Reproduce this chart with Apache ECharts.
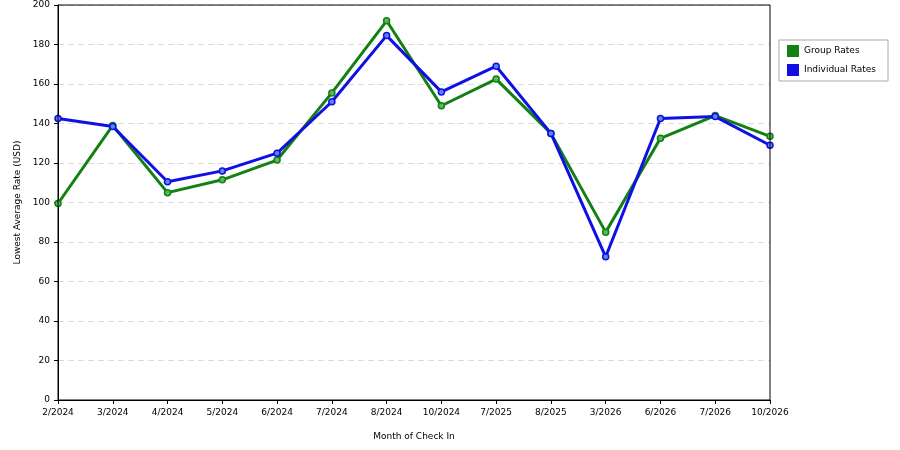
<!DOCTYPE html>
<html><head><meta charset="utf-8">
<script src="https://cdn.jsdelivr.net/npm/echarts@6/dist/echarts.min.js"></script>
<style>body{margin:0;background:#fff}#c{width:900px;height:450px}</style>
</head><body><div id="c"></div>
<script>
const categories = ['2/2024','3/2024','4/2024','5/2024','6/2024','7/2024','8/2024','10/2024','7/2025','8/2025','3/2026','6/2026','7/2026','10/2026'];
const groupRates = [99.5,139,105,111.5,121.5,155.5,192,149,162.5,135,85,132.5,144,133.5];
const individualRates = [142.5,138.5,110.5,116,125,151,184.5,156,169,135,72.5,142.5,143.5,129];
const yTicks = {min:0,max:200,interval:20};
const font = 'DejaVu Sans';
const chart = echarts.init(document.getElementById('c'));
function ser(name, data, color, fill){
  return {name, type:'line', data, symbol:'circle', symbolSize:6,
    lineStyle:{color, width:3}, itemStyle:{color:fill, borderColor:color, borderWidth:1.5}, z: name==='Group Rates'?2:3};
}
chart.setOption({
  animation:false,
  grid:{left:58,top:5,width:712,height:395},
  legend:{orient:'vertical', right:12, top:40,
    data:[{name:'Group Rates',itemStyle:{color:'#138013',borderWidth:0}},{name:'Individual Rates',itemStyle:{color:'#0f0fe6',borderWidth:0}}],
    icon:'rect', itemWidth:12, itemHeight:12, itemGap:7, padding:[5,12,5,8],
    borderColor:'#aaa', borderWidth:1, textStyle:{fontFamily:font,fontSize:9,color:'#000'}},
  xAxis:{type:'category', data:categories, boundaryGap:false, name:'Month of Check In',
    nameLocation:'middle', nameGap:32, nameTextStyle:{fontFamily:font,fontSize:9,color:'#000'},
    axisLine:{lineStyle:{color:'#000'}}, axisTick:{alignWithLabel:true,length:4,lineStyle:{color:'#000'}},
    axisLabel:{fontFamily:font,fontSize:9,color:'#000',interval:0}},
  yAxis:{type:'value', min:yTicks.min, max:yTicks.max, interval:yTicks.interval,
    name:'Lowest Average Rate (USD)', nameLocation:'middle', nameGap:36,
    nameTextStyle:{fontFamily:font,fontSize:9,color:'#000'},
    axisLine:{show:true,lineStyle:{color:'#000'}}, axisTick:{show:true,length:4,lineStyle:{color:'#000'}},
    axisLabel:{fontFamily:font,fontSize:9,color:'#000'},
    splitLine:{lineStyle:{color:'#ddd',type:[6,4]}}},
  series:[
    ser('Group Rates', groupRates, '#138013', '#5cb85c'),
    ser('Individual Rates', individualRates, '#0f0fe6', '#5a8ae6')
  ],
  graphic:[{type:'rect', z:100, shape:{x:58,y:5,width:712,height:395}, style:{fill:'none',stroke:'#000',lineWidth:1}, silent:true}]
});
</script></body></html>
